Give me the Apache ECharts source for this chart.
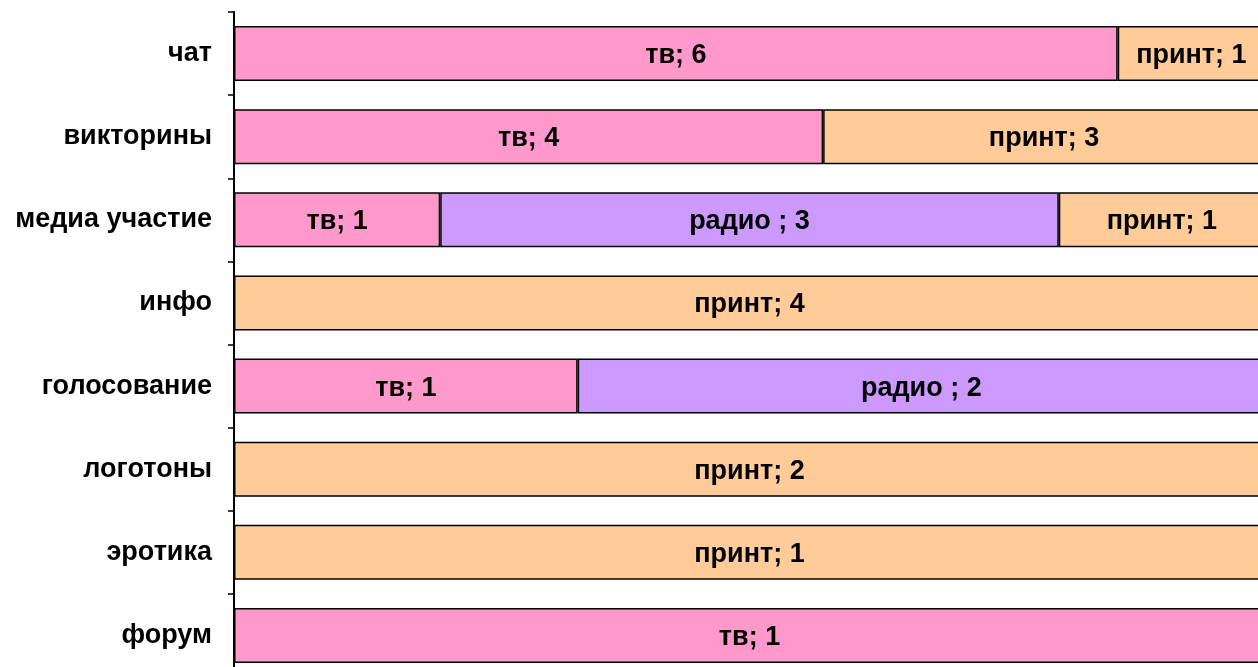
<!DOCTYPE html>
<html>
<head>
<meta charset="utf-8">
<script src="https://cdn.jsdelivr.net/npm/echarts@6/dist/echarts.min.js"></script>
<style>
  html, body { margin: 0; padding: 0; background: #fff; }
  #chart { width: 1258px; height: 667px; }
</style>
</head>
<body>
<div id="chart"></div>
<script>
// categories, top to bottom
var categories = ['чат', 'викторины', 'медиа участие', 'инфо', 'голосование', 'логотоны', 'эротика', 'форум'];
// counts per channel (0 = none)
var tvCounts    = [6, 4, 1, 0, 1, 0, 0, 1];
var radioCounts = [0, 0, 3, 0, 2, 0, 0, 0];
var printCounts = [1, 3, 1, 4, 0, 2, 1, 0];
var seriesNames  = ['тв', 'радио ', 'принт'];
var seriesColors = ['#FF99CC', '#CC99FF', '#FFCC99'];

var allCounts = [tvCounts, radioCounts, printCounts];
var totals = categories.map(function (c, i) {
  return tvCounts[i] + radioCounts[i] + printCounts[i];
});

var FONT = '"Liberation Sans", Arial, sans-serif';

var chart = echarts.init(document.getElementById('chart'));

var series = allCounts.map(function (counts, s) {
  return {
    name: seriesNames[s],
    type: 'bar',
    stack: 'all',
    barWidth: 55,
    itemStyle: { color: seriesColors[s], borderColor: '#000', borderWidth: 1.5 },
    label: {
      show: true,
      position: 'inside',
      offset: [0, 2],
      color: '#000',
      fontFamily: FONT,
      fontWeight: 'bold',
      fontSize: 27,
      formatter: function (p) {
        return seriesNames[s] + '; ' + counts[p.dataIndex];
      }
    },
    data: counts.map(function (v, i) { return v ? v / totals[i] : null; })
  };
});

chart.setOption({
  animation: false,
  grid: { left: 234, top: 12, width: 1031, height: 665, outerBoundsMode: 'none', containLabel: false },
  xAxis: {
    type: 'value',
    min: 0,
    max: 1,
    show: false
  },
  yAxis: {
    type: 'category',
    inverse: true,
    data: categories,
    axisLine: { show: true, lineStyle: { color: '#000', width: 2 } },
    axisTick: { show: true, inside: false, length: 6, lineStyle: { color: '#000', width: 1.5 } },
    axisLabel: {
      margin: 22,
      verticalAlign: 'middle',
      padding: [8, 0, 0, 0],
      color: '#000',
      fontFamily: FONT,
      fontWeight: 'bold',
      fontSize: 27
    },
    splitLine: { show: false }
  },
  series: series
});
</script>
</body>
</html>
